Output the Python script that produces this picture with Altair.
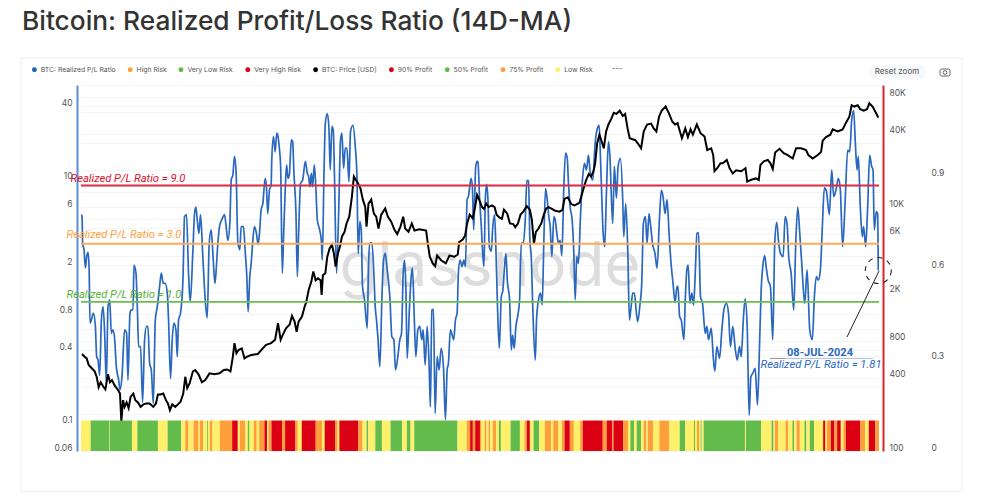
import altair as alt
import pandas as pd

# ---- Realized P/L ratio (year, ratio) ----
pl_a = [(2014.529,5.2),(2014.537,5.0),(2014.545,3.0),(2014.562,2.67),(2014.579,1.9),(2014.595,2.35),(2014.612,2.55),(2014.625,1.95),(2014.637,.67),(2014.654,.71),(2014.679,.81),(2014.704,.63),(2014.720,.356),(2014.737,.334),(2014.758,.25),(2014.779,.71),(2014.800,.915),(2014.820,.553),(2014.841,.215),(2014.862,.915),(2014.883,1.04),(2014.904,.553),(2014.925,.59),(2014.946,.49),(2014.966,.295),(2014.996,.229),
(2015.012,.19),(2015.037,.244),(2015.070,.59),(2015.095,.553),(2015.112,.229),(2015.137,.81),(2015.154,.86),(2015.175,.86),(2015.187,2.0),(2015.212,1.72),(2015.229,.915),(2015.245,.43),(2015.270,.43),(2015.295,.15),(2015.320,.49),(2015.345,.63),(2015.362,.63),(2015.383,.314),(2015.404,.277),(2015.429,.147),(2015.454,.71),(2015.479,.915),(2015.508,1.34),(2015.529,1.72),(2015.554,1.42),(2015.579,1.42),(2015.604,1.18),(2015.620,.71),(2015.645,.235),(2015.666,.49),(2015.687,.67),(2015.712,.59),(2015.729,.356),(2015.745,.71),(2015.770,.81),(2015.800,1.51),(2015.820,5.0),(2015.845,5.2),(2015.870,1.72),(2015.891,1.0),(2015.925,2.67),(2015.945,5.3),(2015.962,6.0),(2015.979,4.7),
(2016.000,3.65),(2016.020,5.2),(2016.049,2.35),(2016.079,1.04),(2016.104,.74),(2016.129,3.03),(2016.154,3.9),(2016.175,2.5),(2016.200,1.42),(2016.216,1.83),(2016.237,3.03),(2016.258,4.15),(2016.279,4.6),(2016.304,5.0),(2016.320,5.2),(2016.341,4.15),(2016.362,3.2),(2016.387,4.4),(2016.404,10),(2016.425,11),(2016.445,15.6),(2016.466,11.3),(2016.487,3.1),(2016.512,2.67),(2016.529,4.15),(2016.558,4.15),(2016.579,2.6),(2016.600,1.61),(2016.616,.83),(2016.637,1.61),(2016.654,2.07),(2016.675,3.2),(2016.695,4.15),(2016.720,3.65),(2016.741,2.95),(2016.758,3.65),(2016.779,5.7),(2016.800,6.4),(2016.829,10.3),(2016.845,8.8),(2016.862,5.3),(2016.883,8.3),(2016.904,9.1),(2016.912,14.6),(2016.933,22.7),(2016.954,17),(2016.975,24.2)]
pl_b = [(2016.99,22.7),(2017.007,18.2),(2017.023,12.9),(2017.044,1.72),(2017.061,3.65),(2017.082,8.8),(2017.098,13.3),(2017.115,10.3),(2017.132,11),(2017.157,21.3),(2017.173,20.6),(2017.19,11.3),(2017.215,5.3),(2017.232,1.61),(2017.248,3.65),(2017.273,9.4),(2017.299,10),(2017.332,14.2),(2017.357,11.3),(2017.373,10.7),(2017.39,8.8),(2017.407,11.3),(2017.423,8.8),(2017.444,13.3),(2017.465,8.3),(2017.482,4.7),(2017.507,4.0),(2017.532,3.2),(2017.544,2.2),(2017.565,10.7),(2017.582,29),(2017.607,35),(2017.627,27),(2017.644,12.1),(2017.665,27.5),(2017.682,25.5),(2017.698,10),(2017.723,1.72),(2017.748,5.0),(2017.773,21.3),(2017.79,24.2),(2017.811,12.5),(2017.832,18.2),(2017.853,18.2),(2017.878,9.7),(2017.898,25),(2017.928,28),(2017.957,18.8),(2017.978,10.7),(2017.994,2.5),
(2018.015,4.55),(2018.032,3.9),(2018.048,1.34),(2018.073,1.04),(2018.107,.61),(2018.123,1.95),(2018.14,3.03),(2018.165,3.07),(2018.19,1.72),(2018.207,.915),(2018.223,.71),(2018.24,.52),(2018.265,.295),(2018.29,1.04),(2018.311,2.2),(2018.332,2.5),(2018.357,1.83),(2018.39,1.1),(2018.415,.52),(2018.44,.49),(2018.461,.277),(2018.49,.356),(2018.515,.49),(2018.536,.553),(2018.557,1.72),(2018.573,2.2),(2018.59,1.34),(2018.607,.345),(2018.636,.915),(2018.657,1.61),(2018.673,1.89),(2018.698,.67),(2018.715,.356),(2018.74,.59),(2018.765,.63),(2018.79,.49),(2018.807,.59),(2018.832,.305),(2018.857,.63),(2018.882,.295),(2018.898,.138),(2018.915,.86),(2018.936,.87),(2018.957,.122),(2018.982,.356),
(2019.007,.277),(2019.032,.417),(2019.061,.295),(2019.086,.108),(2019.107,.277),(2019.123,.314),(2019.148,.59),(2019.19,.49),(2019.211,.71),(2019.232,.81),(2019.248,1.72),(2019.269,2.2),(2019.294,1.95),(2019.315,2.2),(2019.336,1.95),(2019.357,6.9),(2019.373,7.3),(2019.407,10.3),(2019.423,8.8),(2019.44,3.9),(2019.465,12.9),(2019.482,14.2)]
pl_c = [(2019.493,14),(2019.514,6.9),(2019.535,4.15),(2019.555,2.35),(2019.568,1.95),(2019.585,6.9),(2019.601,9.2),(2019.618,6.9),(2019.635,2.84),(2019.66,2.6),(2019.676,3.9),(2019.701,5.2),(2019.718,2.67),(2019.735,1.04),(2019.76,.417),(2019.785,1.1),(2019.805,1.25),(2019.826,1.95),(2019.843,2.5),(2019.86,1.51),(2019.889,1.04),(2019.91,.404),(2019.926,.535),(2019.947,.417),(2019.968,.63),(2019.993,.78),
(2020.014,1.04),(2020.035,3.03),(2020.06,3.03),(2020.085,4.7),(2020.105,9.9),(2020.126,9.8),(2020.143,3.2),(2020.16,2.35),(2020.18,.86),(2020.21,.334),(2020.226,.71),(2020.251,1.04),(2020.276,1.18),(2020.297,.945),(2020.318,3.2),(2020.339,8.5),(2020.36,6.9),(2020.38,5.0),(2020.397,4.15),(2020.418,2.35),(2020.443,5.0),(2020.46,4.7),(2020.48,3.65),(2020.501,3.03),(2020.522,3.2),(2020.543,2.4),(2020.568,8.8),(2020.589,16.6),(2020.61,15.2),(2020.626,9.4),(2020.647,6.0),(2020.672,4.7),(2020.693,2.5),(2020.71,1.04),(2020.73,2.35),(2020.751,2.07),(2020.776,5.0),(2020.801,10),(2020.826,13.7),(2020.851,12.1),(2020.876,16),(2020.901,11),(2020.93,10),(2020.96,20),(2020.985,26),
(2021.01,28),(2021.026,15.6),(2021.043,7.3),(2021.06,3.65),(2021.08,2.84),(2021.101,7.8),(2021.126,20.6),(2021.147,14.6),(2021.164,6.9),(2021.18,4.4),(2021.2,12.9),(2021.226,7.1),(2021.247,12.9),(2021.276,15),(2021.305,6.9),(2021.318,3.43),(2021.343,6.4),(2021.368,2.67),(2021.389,.71),(2021.41,.915),(2021.43,1.18),(2021.451,1.18),(2021.476,.81),(2021.493,.69),(2021.518,.915),(2021.543,1.42),(2021.564,4.4),(2021.589,5.0),(2021.61,3.03),(2021.634,5.3),(2021.651,4.4),(2021.68,2.95),(2021.709,2.5),(2021.735,1.89),(2021.764,4.7),(2021.789,8.2),(2021.81,7.3),(2021.835,5.3),(2021.86,6.9),(2021.885,3.65),(2021.91,2.07),(2021.935,1.42),(2021.96,.99),(2021.985,1.34)]
pl_d = [(2021.996,1.34),(2022.017,.76),(2022.038,.71),(2022.071,.49),(2022.088,1.04),(2022.108,1.83),(2022.125,2.0),(2022.146,.975),(2022.171,1.18),(2022.192,.945),(2022.213,1.72),(2022.234,3.65),(2022.254,3.7),(2022.279,1.1),(2022.304,.975),(2022.338,.553),(2022.358,.63),(2022.379,.49),(2022.413,.61),(2022.438,.356),(2022.458,.27),(2022.483,.43),(2022.517,.345),(2022.546,.59),(2022.571,.86),(2022.604,.975),(2022.629,.81),(2022.654,.43),(2022.683,.63),(2022.713,.417),(2022.738,.334),(2022.767,.43),(2022.788,.356),(2022.817,.76),(2022.838,1.06),(2022.863,.63),(2022.888,.118),(2022.909,.244),(2022.933,.26),(2022.963,.285),(2022.992,.143),
(2023.017,.43),(2023.038,1.25),(2023.058,1.95),(2023.083,2.4),(2023.1,1.95),(2023.125,1.51),(2023.154,1.34),(2023.183,.49),(2023.208,3.03),(2023.233,4.5),(2023.254,3.2),(2023.279,2.5),(2023.313,2.35),(2023.338,5.0),(2023.363,4.3),(2023.383,2.35),(2023.413,1.72),(2023.446,.86),(2023.471,3.03),(2023.496,6.0),(2023.521,3.65),(2023.546,2.07),(2023.583,.975),(2023.613,1.83),(2023.646,.59),(2023.679,.49),(2023.704,1.1),(2023.729,1.61),(2023.754,1.51),(2023.779,1.83),(2023.804,4.15),(2023.829,8.6),(2023.854,8.1),(2023.892,5.2),(2023.921,12.1),(2023.946,7.3),(2023.975,8.3),
(2024.004,10.3),(2024.029,8.3),(2024.058,2.84),(2024.088,6.4),(2024.121,17.6),(2024.146,17),(2024.171,31),(2024.196,37),(2024.217,20),(2024.238,12.1),(2024.254,15.6),(2024.279,6.0),(2024.304,3.43),(2024.321,4.15),(2024.346,2.84),(2024.371,6.0),(2024.396,16),(2024.421,12.9),(2024.438,12.1),(2024.454,3.9),(2024.479,5.5),(2024.496,5.3),(2024.504,1.81)]

# ---- BTC price (year, USD) ----
price_a = [(2014.537,624),(2014.57,593),(2014.595,574),(2014.62,508),(2014.662,475),(2014.695,450),(2014.72,406),(2014.745,333),(2014.77,366),(2014.804,336),(2014.829,320),(2014.862,425),(2014.887,366),(2014.912,381),(2014.945,345),(2014.987,316),(2015.012,296),(2015.029,175),(2015.05,261),(2015.07,230),(2015.095,250),(2015.12,225),(2015.145,278),(2015.179,296),(2015.204,261),(2015.237,250),(2015.27,230),(2015.304,241),(2015.341,245),(2015.383,245),(2015.429,230),(2015.462,245),(2015.487,291),(2015.52,291),(2015.554,296),(2015.587,261),(2015.612,245),(2015.637,216),(2015.666,241),(2015.704,230),(2015.737,241),(2015.77,253),(2015.804,296),(2015.829,406),(2015.854,328),(2015.883,358),(2015.925,450),(2015.954,461),(2015.995,425),(2016.037,366),(2016.079,381),(2016.133,433),(2016.195,425),(2016.258,433),(2016.312,461),(2016.354,466),(2016.395,450),(2016.425,593),(2016.445,766),(2016.47,633),(2016.495,672),(2016.537,694),(2016.57,574),(2016.604,593),(2016.654,612),(2016.737,624),(2016.8,694),(2016.841,741),(2016.904,766),(2016.954,816),(2016.975,982)]
price_b = [(2016.99,1115),(2017.023,816),(2017.048,890),(2017.09,1015),(2017.136,1090),(2017.165,1282),(2017.198,1150),(2017.223,950),(2017.248,1150),(2017.29,1265),(2017.323,1523),(2017.344,1665),(2017.373,2080),(2017.407,2450),(2017.432,2960),(2017.461,2510),(2017.49,2600),(2017.523,2510),(2017.536,1900),(2017.552,2760),(2017.582,2860),(2017.607,3910),(2017.636,4580),(2017.665,4910),(2017.69,4160),(2017.711,3250),(2017.74,4160),(2017.765,4730),(2017.79,5710),(2017.823,6260),(2017.848,7330),(2017.882,8330),(2017.915,12150),(2017.94,17800),(2017.965,16650),(2017.99,15650),(2018.023,14150),(2018.052,11490),(2018.082,9990),(2018.098,6910),(2018.123,10650),(2018.157,11490),(2018.19,8820),(2018.219,8330),(2018.248,6660),(2018.282,8660),(2018.332,9740),(2018.365,8330),(2018.407,7580),(2018.448,6490),(2018.482,5990),(2018.523,6910),(2018.557,8330),(2018.582,6660),(2018.623,6260),(2018.665,7330),(2018.698,6410),(2018.761,6580),(2018.844,6410),(2018.865,5040),(2018.89,3910),(2018.927,3450),(2018.957,3280),(2018.982,4000),(2019.032,3660),(2019.09,3450),(2019.136,4000),(2019.198,3910),(2019.24,4080),(2019.257,5160),(2019.302,5410),(2019.332,5830),(2019.357,7330),(2019.39,8660),(2019.427,8080),(2019.457,9990),(2019.482,12570)]
price_c = [(2019.493,12150),(2019.518,11070),(2019.543,9990),(2019.568,9660),(2019.597,10650),(2019.626,9990),(2019.668,10320),(2019.701,9990),(2019.726,8660),(2019.764,8160),(2019.793,7990),(2019.818,9490),(2019.86,8820),(2019.893,7330),(2019.935,7240),(2019.96,6830),(2019.993,7330),(2020.026,8660),(2020.06,9160),(2020.105,10160),(2020.143,9490),(2020.168,7830),(2020.193,4995),(2020.218,6260),(2020.251,6660),(2020.285,7330),(2020.318,8660),(2020.347,9740),(2020.376,9990),(2020.418,9660),(2020.46,9320),(2020.514,9160),(2020.551,9490),(2020.576,11650),(2020.618,11990),(2020.66,10570),(2020.701,10320),(2020.764,10820),(2020.805,13490),(2020.847,16650),(2020.88,18650),(2020.91,17800),(2020.939,19650),(2020.96,22810),(2020.985,33300),(2021.014,39130),(2021.043,34300),(2021.068,30300),(2021.097,41625),(2021.126,47450),(2021.16,52450),(2021.193,59100),(2021.226,57940),(2021.268,61600),(2021.305,55800),(2021.335,57940),(2021.368,43300),(2021.393,36600),(2021.426,35960),(2021.46,35460),(2021.493,33300),(2021.535,30300),(2021.568,41625),(2021.61,47450),(2021.66,48300),(2021.693,44120),(2021.726,41625),(2021.76,54950),(2021.793,61600),(2021.843,66600),(2021.885,58270),(2021.926,49950),(2021.96,47450),(2021.993,48800)]
price_d = [(2021.996,47450),(2022.046,36600),(2022.088,44120),(2022.121,37460),(2022.154,43300),(2022.183,39130),(2022.233,47450),(2022.279,40300),(2022.329,37800),(2022.363,29300),(2022.413,30300),(2022.438,26640),(2022.454,19650),(2022.488,20800),(2022.529,22810),(2022.558,22810),(2022.608,24300),(2022.642,20810),(2022.683,18810),(2022.725,19980),(2022.788,19650),(2022.842,20810),(2022.863,16150),(2022.921,16800),(2022.975,17150),(2023.008,16650),(2023.029,22140),(2023.071,23640),(2023.121,24300),(2023.154,22810),(2023.183,20480),(2023.213,27970),(2023.267,29970),(2023.321,27640),(2023.371,26640),(2023.433,24975),(2023.475,30300),(2023.538,30300),(2023.6,29300),(2023.629,26640),(2023.683,24975),(2023.746,26640),(2023.788,28300),(2023.808,34960),(2023.85,37460),(2023.904,39130),(2023.933,43300),(2023.996,41625),(2024.058,43300),(2024.1,49120),(2024.142,54950),(2024.171,68270),(2024.204,66600),(2024.246,68270),(2024.279,63270),(2024.321,61600),(2024.363,63270),(2024.392,70760),(2024.433,66600),(2024.475,59100),(2024.504,54110)]

# ---- risk strip: (end year, level) ----
risk_start = 2014.524
risk_a = [(2014.645,"L"),(2014.875,"V"),(2014.883,"L"),(2015.162,"V"),(2015.229,"L"),(2015.487,"V"),(2015.608,"L"),(2015.779,"V"),(2015.829,"L"),(2015.870,"H"),(2015.933,"L"),(2015.995,"H"),(2016.012,"L"),(2016.054,"H"),(2016.104,"L"),(2016.116,"V"),(2016.137,"L"),(2016.170,"H"),(2016.262,"L"),(2016.416,"H"),(2016.487,"X"),(2016.512,"L"),(2016.579,"H"),(2016.612,"L"),(2016.633,"V"),(2016.687,"L"),(2016.724,"H"),(2016.754,"L"),(2016.820,"H"),(2016.854,"X"),(2016.870,"L"),(2016.908,"H"),(2017.041,"X"),(2017.079,"H"),(2017.208,"X"),(2017.237,"H"),(2017.287,"L"),(2017.462,"X"),(2017.541,"H"),(2017.574,"L"),(2017.704,"X"),(2017.737,"H"),(2017.758,"L"),(2017.995,"X"),(2018.049,"H"),(2018.099,"L"),(2018.120,"V"),(2018.208,"L"),(2018.291,"V"),(2018.399,"L"),(2018.545,"V"),(2018.603,"L"),(2018.649,"V"),(2018.695,"L"),(2019.237,"V"),(2019.354,"L"),(2019.395,"H"),(2019.429,"X"),(2019.458,"H"),(2019.518,"X")]
risk_b = [(2019.535,"H"),(2019.576,"L"),(2019.601,"H"),(2019.626,"L"),(2019.647,"H"),(2019.680,"L"),(2019.722,"H"),(2019.755,"L"),(2019.780,"V"),(2019.901,"L"),(2020.018,"V"),(2020.076,"L"),(2020.105,"H"),(2020.143,"X"),(2020.189,"L"),(2020.260,"V"),(2020.330,"L"),(2020.410,"H"),(2020.435,"L"),(2020.497,"H"),(2020.543,"L"),(2020.576,"H"),(2020.643,"X"),(2020.693,"H"),(2020.772,"L"),(2020.805,"H"),(2021.055,"X"),(2021.105,"H"),(2021.172,"X"),(2021.189,"H"),(2021.310,"X"),(2021.372,"H"),(2021.401,"L"),(2021.447,"V"),(2021.480,"L"),(2021.535,"V"),(2021.568,"L"),(2021.601,"H"),(2021.618,"L"),(2021.689,"H"),(2021.764,"L"),(2021.889,"H"),(2022.018,"L"),(2022.089,"V"),(2022.197,"L"),(2022.210,"V"),(2022.235,"L"),(2022.260,"H"),(2022.280,"L"),(2022.293,"V"),(2022.318,"L"),(2022.835,"V"),(2022.847,"L"),(2023.039,"V"),(2023.168,"L"),(2023.193,"V"),(2023.210,"L"),(2023.251,"H"),(2023.343,"L"),(2023.376,"H"),(2023.430,"L"),(2023.451,"V"),(2023.480,"L"),(2023.522,"H"),(2023.580,"L"),(2023.605,"V"),(2023.647,"L"),(2023.701,"V"),(2023.814,"L"),(2023.843,"X"),(2023.860,"L"),(2023.910,"H"),(2023.955,"X"),(2023.989,"H"),(2024.035,"X"),(2024.068,"L"),(2024.097,"H"),(2024.280,"X"),(2024.339,"H"),(2024.385,"L"),(2024.464,"X"),(2024.513,"H")]

level_names = {"V": "Very Low Risk", "L": "Low Risk", "H": "High Risk", "X": "Very High Risk"}
legend_names = ["BTC: Realized P/L Ratio", "High Risk", "Very Low Risk", "Very High Risk", "BTC: Price [USD]", "90% Profit", "50% Profit", "75% Profit", "Low Risk"]
legend_colors = ["#1f62b8", "#ff9f3a", "#62bb4a", "#dc0014", "#000000", "#dc0014", "#62bb4a", "#ff9f3a", "#fff06a"]

thresholds = [9.0, 3.0, 1.0]
threshold_colors = ["#dc2a45", "#ffab55", "#6cc04e"]
threshold_text_colors = ["#dc0f2c", "#ffa040", "#55b432"]
threshold_dy = [-7, -9, -7]
threshold_text_px = [47, 43, 43]

ratio_ticks = [0.06, 0.1, 0.2, 0.4, 0.6, 0.8, 1, 2, 4, 6, 8, 10, 20, 40, 60]
ratio_labels = [40, 10, 6, 2, 0.8, 0.4, 0.1, 0.06]
price_ticks = [100, 200, 400, 600, 800, 1000, 2000, 4000, 6000, 8000, 10000, 20000, 40000, 60000, 80000, 100000]
price_labels = [80000, 40000, 10000, 6000, 2000, 800, 400, 100]
year_ticks = list(range(2015, 2025))
third_ticks = [0, 0.3, 0.6, 0.9]

FONT = "Inter"
W, H = 798, 366

pl = pd.DataFrame(pl_a + pl_b + pl_c + pl_d, columns=["year", "ratio"])
price = pd.DataFrame(price_a + price_b + price_c + price_d, columns=["year", "usd"])
risk = risk_a + risk_b
strip = pd.DataFrame({
    "start": [risk_start] + [r[0] for r in risk[:-1]],
    "end": [r[0] for r in risk],
    "level": [level_names[r[1]] for r in risk],
    "low": 0.0,
    "high": 0.1,
})

xscale = alt.Scale(domain=[2014.524, 2024.513], nice=False, zero=False)
ratio_scale = alt.Scale(type="log", domain=[0.06, 60], nice=False)
price_scale = alt.Scale(type="log", domain=[100, 100000], nice=False)
third_scale = alt.Scale(domain=[0, 1.2], nice=False, zero=True)
one = pd.DataFrame({"t": ["x"]})


def fixed_text(text, x, y, **kw):
    return alt.Chart(pd.DataFrame({"t": [text]})).mark_text(**kw).encode(
        text="t:N", x=alt.value(x), y=alt.value(y))


xaxis = alt.Axis(values=year_ticks, format="d", title=None, grid=False, labelFont=FONT, labelFontSize=8.5,
                 labelColor="#666666", tickColor="#e6e6e6", tickSize=5, domainColor="#e0e0e0", labelPadding=6,
                 labelFlush=False, labelOverlap=False)

frame = alt.Chart(one).mark_rect(filled=False, stroke="#eeeeee", strokeWidth=1).encode(
    x=alt.value(-60), x2=alt.value(881), y=alt.value(-27), y2=alt.value(406.5))

watermark = fixed_text("glassnode", 409, 182, font=FONT, fontSize=62, color="#dddddd", fontWeight=400,
                       align="center", baseline="middle")

ratio_line = alt.Chart(pl).mark_line(color="#2a68bf", strokeWidth=1.7, clip=True, interpolate="monotone").encode(
    x=alt.X("year:Q", scale=xscale, axis=xaxis),
    y=alt.Y("ratio:Q", scale=ratio_scale, axis=alt.Axis(
        orient="left", values=ratio_ticks, title=None, offset=4, ticks=False, labelPadding=5, labelOffset=-4,
        labelFont=FONT, labelFontSize=8.5, labelColor="#555555", domainColor="#5b8ed2", domainWidth=2,
        grid=True, gridColor="#f3f3f3", gridWidth=1, labelOverlap=False,
        labelExpr="indexof(%s, datum.value) >= 0 ? format(datum.value, '~g') : ''" % ratio_labels)),
)

price_line = alt.Chart(price).mark_line(color="#000000", strokeWidth=2, clip=True).encode(
    x=alt.X("year:Q", scale=xscale, axis=None),
    y=alt.Y("usd:Q", scale=price_scale, axis=alt.Axis(
        orient="right", values=price_ticks, title=None, offset=4, ticks=False, labelPadding=6, labelOffset=-4,
        labelFont=FONT, labelFontSize=8.5, labelColor="#555555", domainColor="#d8262c", domainWidth=2,
        grid=True, gridColor="#f3f3f3", gridWidth=1, labelOverlap=False,
        labelExpr="indexof(%s, datum.value) >= 0 ? (datum.value >= 1000 ? (datum.value / 1000) + 'K' : '' + datum.value) : ''" % price_labels)),
)

strips = alt.Chart(strip).mark_rect(strokeWidth=0).encode(
    x=alt.X("start:Q", scale=xscale, axis=None),
    x2="end:Q",
    y=alt.Y("low:Q", scale=third_scale, axis=alt.Axis(
        orient="right", values=third_ticks, title=None, offset=52, ticks=False, domain=False, grid=False,
        labelPadding=0, labelOffset=-4, labelFont=FONT, labelFontSize=8.5, labelColor="#555555", format="~g")),
    y2="high:Q",
    color=alt.Color("level:N", scale=alt.Scale(domain=legend_names, range=legend_colors), legend=alt.Legend(
        orient="none", legendX=-50, legendY=-19, direction="horizontal", columns=9, title=None,
        symbolType="circle", symbolSize=24, symbolStrokeWidth=0, labelFont=FONT, labelFontSize=6.8,
        labelColor="#555555", labelOffset=3, columnPadding=10.8, values=legend_names)),
)

layers = [frame, watermark, ratio_line, price_line, strips]

for v, c, tc, dy, px in zip(thresholds, threshold_colors, threshold_text_colors, threshold_dy, threshold_text_px):
    d = pd.DataFrame({"ratio": [v], "t": ["Realized P/L Ratio = %.1f" % v]})
    layers.append(alt.Chart(d).mark_rule(color=c, strokeWidth=1.8).encode(
        y=alt.Y("ratio:Q", scale=ratio_scale, axis=None), x=alt.value(0), x2=alt.value(W)))
    layers.append(alt.Chart(d).mark_text(font="Roboto", fontStyle="italic", fontSize=11.2, color=tc, dy=dy).encode(
        y=alt.Y("ratio:Q", scale=ratio_scale, axis=None), x=alt.value(px), text="t:N"))

last = pd.DataFrame({"year": [2024.504], "ratio": [1.81]})
layers.append(alt.Chart(last).mark_point(size=676, stroke="#222222", strokeWidth=1.1, strokeDash=[5, 5], filled=False, clip=False, opacity=1).encode(
    x=alt.X("year:Q", scale=xscale, axis=None), y=alt.Y("ratio:Q", scale=ratio_scale, axis=None)))
layers.append(alt.Chart(one).mark_rule(color="#222222", strokeWidth=1).encode(
    x=alt.value(766), y=alt.value(252), x2=alt.value(798), y2=alt.value(186)))
layers.append(alt.Chart(one).mark_rule(color="#a9c4e8", strokeWidth=1).encode(
    x=alt.value(689), x2=alt.value(792), y=alt.value(273.5)))
layers.append(alt.Chart(one).mark_rule(color="#999999", strokeWidth=1).encode(
    x=alt.value(689), x2=alt.value(704), y=alt.value(273.5)))
layers.append(fixed_text("08-JUL-2024", 739, 268, font="Roboto", fontWeight="bold", fontSize=11, color="#2a68bf"))
layers.append(fixed_text("Realized P/L Ratio = 1.81", 740, 280, font="Roboto", fontStyle="italic", fontSize=11.2, color="#2a68bf"))

# page title and toolbar
layers.append(fixed_text("Bitcoin: Realized Profit/Loss Ratio (14D-MA)", -59, -63, font=FONT, fontSize=26.3, fontWeight=500,
                         color="#333333", align="left", baseline="middle"))
layers.append(alt.Chart(one).mark_rect(fill="#f7f8fa", cornerRadius=3).encode(
    x=alt.value(789), x2=alt.value(844), y=alt.value(-20), y2=alt.value(-6)))
layers.append(fixed_text("Reset zoom", 816, -13, font=FONT, fontSize=8, color="#555555"))
layers.append(alt.Chart(one).mark_rect(filled=False, stroke="#666666", strokeWidth=1, cornerRadius=1.5).encode(
    x=alt.value(859), x2=alt.value(869), y=alt.value(-16), y2=alt.value(-9)))
layers.append(alt.Chart(one).mark_point(size=14, stroke="#666666", strokeWidth=1, filled=False, opacity=1).encode(
    x=alt.value(864), y=alt.value(-12.5)))
layers.append(fixed_text("---", 536, -16, font=FONT, fontSize=8, color="#666666"))

chart = alt.layer(*layers).resolve_scale(y="independent", x="shared").properties(
    width=W, height=H, autosize="none",
    padding={"left": 73, "top": 77, "right": 85, "bottom": 41},
).configure_view(stroke=None)

chart.save("out.html", embed_options={"renderer": "svg", "actions": False})
